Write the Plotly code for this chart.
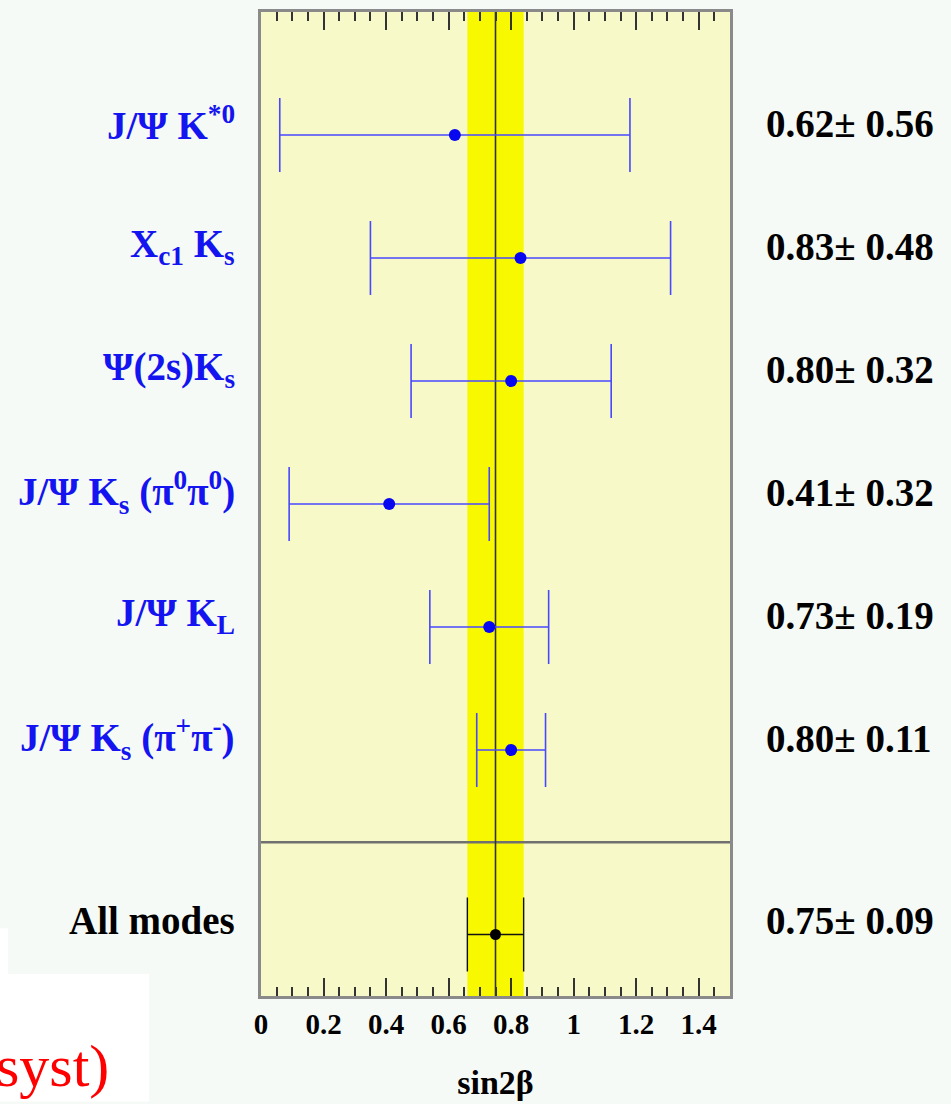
import plotly.graph_objects as go

# sin2beta measurements per decay mode
modes = [
    "J/Ψ K<sup>*0</sup>",
    "X<sub>c1</sub> K<sub>s</sub>",
    "Ψ(2s)K<sub>s</sub>",
    "J/Ψ K<sub>s</sub> (π<sup>0</sup>π<sup>0</sup>)",
    "J/Ψ K<sub>L</sub>",
    "J/Ψ K<sub>s</sub> (π<sup>+</sup>π<sup>-</sup>)",
]
values = [0.62, 0.83, 0.80, 0.41, 0.73, 0.80]
errors = [0.56, 0.48, 0.32, 0.32, 0.19, 0.11]

combined_label = "All modes"
combined_value = 0.75
combined_error = 0.09

tick_vals = [0, 0.2, 0.4, 0.6, 0.8, 1.0, 1.2, 1.4]
tick_text = ["0", "0.2", "0.4", "0.6", "0.8", "1", "1.2", "1.4"]

# figure geometry (pixels)
W, H = 951, 1104
ML, MR, MT, MB = 261, 221, 9, 106
PW, PH = W - ML - MR, H - MT - MB

def px_x(p):
    return (p - ML) / PW

def px_y(p):
    return (H - MB - p) / PH

SERIF = "Liberation Serif, Times New Roman, serif"
BLUE_TXT = "#1414f0"
BLUE_MK = "#0808f0"
BLUE_LN = "#4848ff"

n = len(modes)
# rows from top to bottom, combined result separated below
ys = [1.5 + (n - 1 - i) for i in range(n)]
y_comb = 0.0

fig = go.Figure()

fig.add_trace(go.Scatter(
    x=values, y=ys, mode="markers",
    marker=dict(color=BLUE_MK, size=12),
    error_x=dict(type="data", array=errors, visible=True,
                 color=BLUE_LN, thickness=1.6, width=37),
    hoverinfo="skip", showlegend=False,
))
fig.add_trace(go.Scatter(
    x=[combined_value], y=[y_comb], mode="markers",
    marker=dict(color="#000000", size=11),
    error_x=dict(type="data", array=[combined_error], visible=True,
                 color="#111111", thickness=1.4, width=37),
    hoverinfo="skip", showlegend=False,
))

shapes = [
    # average band and central value
    dict(type="rect", xref="x", yref="paper",
         x0=combined_value - combined_error, x1=combined_value + combined_error,
         y0=0, y1=1, fillcolor="#f8f800", line=dict(width=0), layer="below"),
    dict(type="line", xref="paper", yref="y", x0=0, x1=1, y0=0.75, y1=0.75,
         line=dict(color="#707070", width=2.5), layer="below"),
    dict(type="line", xref="x", yref="paper", x0=combined_value, x1=combined_value,
         y0=0, y1=1, line=dict(color="#333333", width=1.6), layer="below"),
    # white boxes in the lower left corner
    dict(type="rect", xref="paper", yref="paper",
         x0=px_x(0), x1=px_x(8), y0=px_y(976), y1=px_y(930),
         fillcolor="#ffffff", line=dict(width=0), layer="below"),
    dict(type="rect", xref="paper", yref="paper",
         x0=px_x(0), x1=px_x(149), y0=px_y(1104), y1=px_y(976),
         fillcolor="#ffffff", line=dict(width=0), layer="below"),
]

annotations = []
for lab, v, e, y in zip(modes, values, errors, ys):
    annotations.append(dict(
        text=f"<b>{lab}</b>", xref="paper", yref="y", x=0, y=y,
        xanchor="right", yanchor="middle", xshift=-24, yshift=12,
        showarrow=False, font=dict(family=SERIF, size=39, color=BLUE_TXT)))
    annotations.append(dict(
        text=f"<b>{v:.2f}± {e:.2f}</b>", xref="paper", yref="y", x=1, y=y,
        xanchor="left", yanchor="middle", xshift=34, yshift=12,
        showarrow=False, font=dict(family=SERIF, size=39, color="#000000")))

annotations.append(dict(
    text=f"<b>{combined_label}</b>", xref="paper", yref="y", x=0, y=y_comb,
    xanchor="right", yanchor="middle", xshift=-24, yshift=14,
    showarrow=False, font=dict(family=SERIF, size=39, color="#000000")))
annotations.append(dict(
    text=f"<b>{combined_value:.2f}± {combined_error:.2f}</b>", xref="paper", yref="y",
    x=1, y=y_comb, xanchor="left", yanchor="middle", xshift=34, yshift=14,
    showarrow=False, font=dict(family=SERIF, size=39, color="#000000")))

annotations.append(dict(
    text="syst)", xref="paper", yref="paper", x=px_x(111), y=px_y(1068),
    xanchor="right", yanchor="middle", showarrow=False,
    font=dict(family=SERIF, size=60, color="#ff0000")))

fig.update_layout(
    width=W, height=H,
    margin=dict(l=ML, r=MR, t=MT, b=MB),
    paper_bgcolor="#f6faf6",
    plot_bgcolor="#f8f9c9",
    shapes=shapes,
    annotations=annotations,
    xaxis=dict(
        range=[0, 1.5], tickvals=tick_vals, ticktext=tick_text,
        ticks="inside", ticklen=18, tickwidth=1.5, tickcolor="#333333",
        minor=dict(dtick=0.05, ticks="inside", ticklen=9, tickwidth=1.5,
                   tickcolor="#333333", showgrid=False),
        showgrid=False, zeroline=False,
        showline=True, linecolor="#8a8a8a", linewidth=2.5, mirror="ticks",
        tickfont=dict(family=SERIF, size=29, color="#000000", weight="bold"),
        title=dict(text="<b>sin2β</b>", standoff=32,
                   font=dict(family=SERIF, size=34, color="#000000")),
    ),
    yaxis=dict(
        range=[-0.5, 7.5], showticklabels=False, ticks="",
        showgrid=False, zeroline=False,
        showline=True, linecolor="#8a8a8a", linewidth=2.5, mirror=True,
    ),
)

fig.write_html("out.html")
